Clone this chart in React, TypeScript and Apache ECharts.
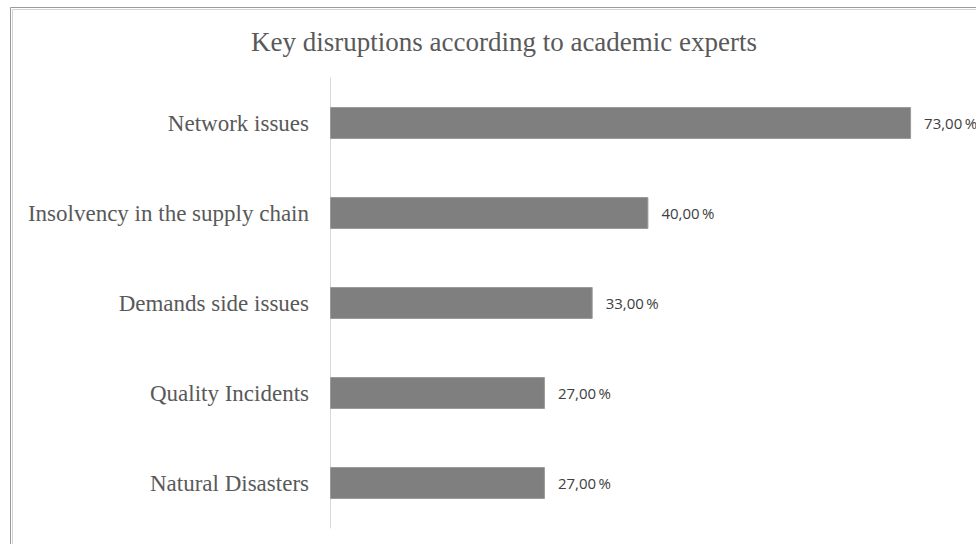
import React, { useEffect, useRef } from "react";
import * as echarts from "echarts";

const TITLE = "Key disruptions according to academic experts";
const categories = [
  "Network issues",
  "Insolvency in the supply chain",
  "Demands side issues",
  "Quality Incidents",
  "Natural Disasters",
];
const values = [73, 40, 33, 27, 27];

export default function App() {
  const ref = useRef<HTMLDivElement>(null);
  useEffect(() => {
    if (!ref.current) return;
    const chart = echarts.init(ref.current, null, { renderer: "svg" });
    chart.setOption({
      animation: false,
      backgroundColor: "#ffffff",
      title: {
        text: TITLE,
        left: 499,
        textAlign: "center",
        top: 23,
        textStyle: {
          fontFamily: "Liberation Serif",
          fontWeight: "normal",
          fontSize: 27,
          color: "#595959",
        },
      },
      graphic: [
        {
          type: "rect",
          shape: { x: 10.5, y: 7.5, width: 1200, height: 800 },
          style: { fill: "none", stroke: "#9a9a9a", lineWidth: 1 },
          silent: true,
        },
        {
          type: "rect",
          shape: { x: 12.5, y: 9.5, width: 1200, height: 800 },
          style: { fill: "none", stroke: "#d4d4d4", lineWidth: 1 },
          silent: true,
        },
      ],
      grid: {
        left: 330,
        top: 78,
        width: 796,
        height: 450,
        containLabel: false,
        outerBoundsMode: "none",
      },
      xAxis: {
        type: "value",
        min: 0,
        max: 100,
        show: false,
        splitLine: { show: false },
      },
      yAxis: {
        type: "category",
        data: categories,
        inverse: true,
        axisLine: { show: true, lineStyle: { color: "#d9d9d9", width: 1 } },
        axisTick: { show: false },
        splitLine: { show: false },
        axisLabel: {
          fontFamily: "Liberation Serif",
          fontSize: 23,
          color: "#595959",
          margin: 21,
        },
      },
      series: [
        {
          type: "bar",
          data: values,
          barWidth: 32,
          itemStyle: { color: "#7f7f7f", borderColor: "#9a9a9a", borderWidth: 1 },
          label: {
            show: true,
            position: "right",
            distance: 13,
            fontFamily: "Open Sans",
            fontSize: 15,
            color: "#404040",
            formatter: (p: any) =>
              p.value.toFixed(2).replace(".", ",") + "\u2009%",
          },
        },
      ],
    });
    return () => chart.dispose();
  }, []);
  return (
    <div
      ref={ref}
      style={{ position: "fixed", left: 0, top: 0, width: 976, height: 544 }}
    />
  );
}
